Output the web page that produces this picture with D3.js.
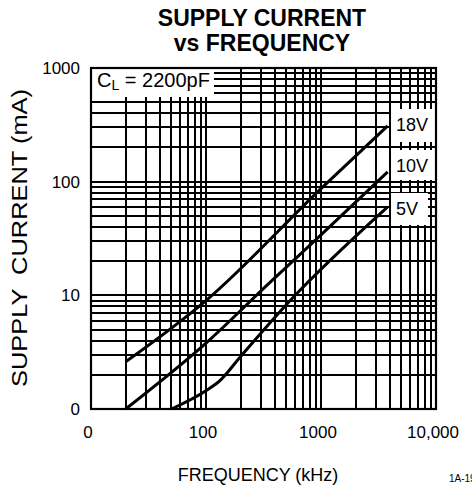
<!DOCTYPE html>
<meta charset="utf-8">
<style>
body { margin: 0; background: #fff; }
text { font-family: 'Liberation Sans', Arial, Helvetica, sans-serif; fill: #000; }
.grid line { stroke: #000; stroke-width: 1.5px; shape-rendering: crispEdges; }
.curve { fill: none; stroke: #000; stroke-width: 3px; }
</style>
<body>
<svg width="472" height="487"></svg>
<script src="https://d3js.org/d3.v7.min.js"></script>
<script>

// axis ticks (the sheet labels the 1 and 10 decades as "0")
var freqTicks = [10, 100, 1000, 10000],
    freqLabels = ["0", "100", "1000", "10,000"],
    currTicks = [1, 10, 100, 1000],
    currLabels = ["0", "10", "100", "1000"];

// supply current (mA) vs frequency (kHz), C_L = 2200pF
var names = ["18V", "10V", "5V"];
var freq18 = [20, 100, 1000, 3800],
    curr18 = [2.6, 9, 87, 310];
var freq10 = [20, 100, 360, 1000, 3800],
    curr10 = [1, 3.8, 13, 34, 122];
var freq5 = [50, 100, 130, 200, 540, 3800],
    curr5 = [1, 1.45, 1.75, 2.9, 9, 60];

var svg = d3.select("svg"),
    plotL = 91, plotR = 436, plotT = 68, plotB = 409;

var x = d3.scaleLog().domain([10, 10000]).range([plotL, plotR]),
    y = d3.scaleLog().domain([1, 1000]).range([plotB, plotT]);

var series = [
  {name: names[0], pts: d3.zip(freq18, curr18)},
  {name: names[1], pts: d3.zip(freq10, curr10)},
  {name: names[2], pts: d3.zip(freq5, curr5)}
];

// grid
var grid = svg.append("g").attr("class", "grid");
grid.selectAll(".vx").data(x.ticks()).enter().append("line")
    .attr("x1", d => Math.round(x(d))).attr("x2", d => Math.round(x(d)))
    .attr("y1", plotT).attr("y2", plotB);
grid.selectAll(".hy").data(y.ticks()).enter().append("line")
    .attr("y1", d => Math.round(y(d))).attr("y2", d => Math.round(y(d)))
    .attr("x1", plotL).attr("x2", plotR);

// white boxes behind annotations
var boxes = [
  {x0: plotL + 1, x1: 214, y0: plotT + 1, y1: 97},
  {x0: 391, x1: plotR - 1, y0: 109, y1: 142},
  {x0: 391, x1: plotR - 1, y0: 150, y1: 180},
  {x0: 391, x1: 428, y0: 193, y1: 225}
];
svg.selectAll(".box").data(boxes).enter().append("rect")
    .attr("x", d => d.x0).attr("y", d => d.y0)
    .attr("width", d => d.x1 - d.x0).attr("height", d => d.y1 - d.y0)
    .attr("fill", "#fff");

// frame
svg.append("rect")
    .attr("x", plotL).attr("y", plotT)
    .attr("width", plotR - plotL).attr("height", plotB - plotT)
    .attr("fill", "none").attr("stroke", "#000").attr("stroke-width", 2.2);

var line = d3.line().x(d => x(d[0])).y(d => y(d[1])).curve(d3.curveMonotoneX);

svg.selectAll(".curve").data(series).enter().append("path")
    .attr("class", "curve")
    .attr("d", d => line(d.pts));

// series labels
var labelY = [131, 172, 215];
svg.selectAll(".lab").data(series).enter().append("text")
    .attr("x", 396).attr("y", (d, i) => labelY[i])
    .attr("font-size", 18)
    .text(d => d.name);

// C_L label
var cl = svg.append("text").attr("x", 97).attr("y", 87).attr("font-size", 20);
cl.append("tspan").text("C");
cl.append("tspan").attr("font-size", 14).attr("dy", 3).text("L");
cl.append("tspan").attr("dy", -3).text(" = 2200pF");

// tick labels
svg.selectAll(".xl").data(freqTicks).enter().append("text")
    .attr("x", d => x(d) - 3).attr("y", 438)
    .attr("text-anchor", "middle").attr("font-size", 17)
    .text((d, i) => freqLabels[i]);
svg.selectAll(".yl").data(currTicks).enter().append("text")
    .attr("x", 80).attr("y", d => y(d) + 6)
    .attr("text-anchor", "end").attr("font-size", 17)
    .text((d, i) => currLabels[i]);

// titles
svg.append("text").attr("x", 262).attr("y", 26)
    .attr("text-anchor", "middle").attr("font-size", 23).attr("font-weight", "bold")
    .text("SUPPLY CURRENT");
svg.append("text").attr("x", 262).attr("y", 51)
    .attr("text-anchor", "middle").attr("font-size", 23).attr("font-weight", "bold")
    .text("vs FREQUENCY");
svg.append("text").attr("x", 258).attr("y", 481)
    .attr("text-anchor", "middle").attr("font-size", 18)
    .text("FREQUENCY (kHz)");
svg.append("text")
    .attr("transform", "translate(27,238) rotate(-90)")
    .attr("text-anchor", "middle").attr("font-size", 22)
    .attr("textLength", 298).attr("lengthAdjust", "spacingAndGlyphs")
    .style("white-space", "pre")
    .text("SUPPLY  CURRENT (mA)");
svg.append("text").attr("x", 449).attr("y", 482)
    .attr("font-size", 10).text("1A-19");

</script>
